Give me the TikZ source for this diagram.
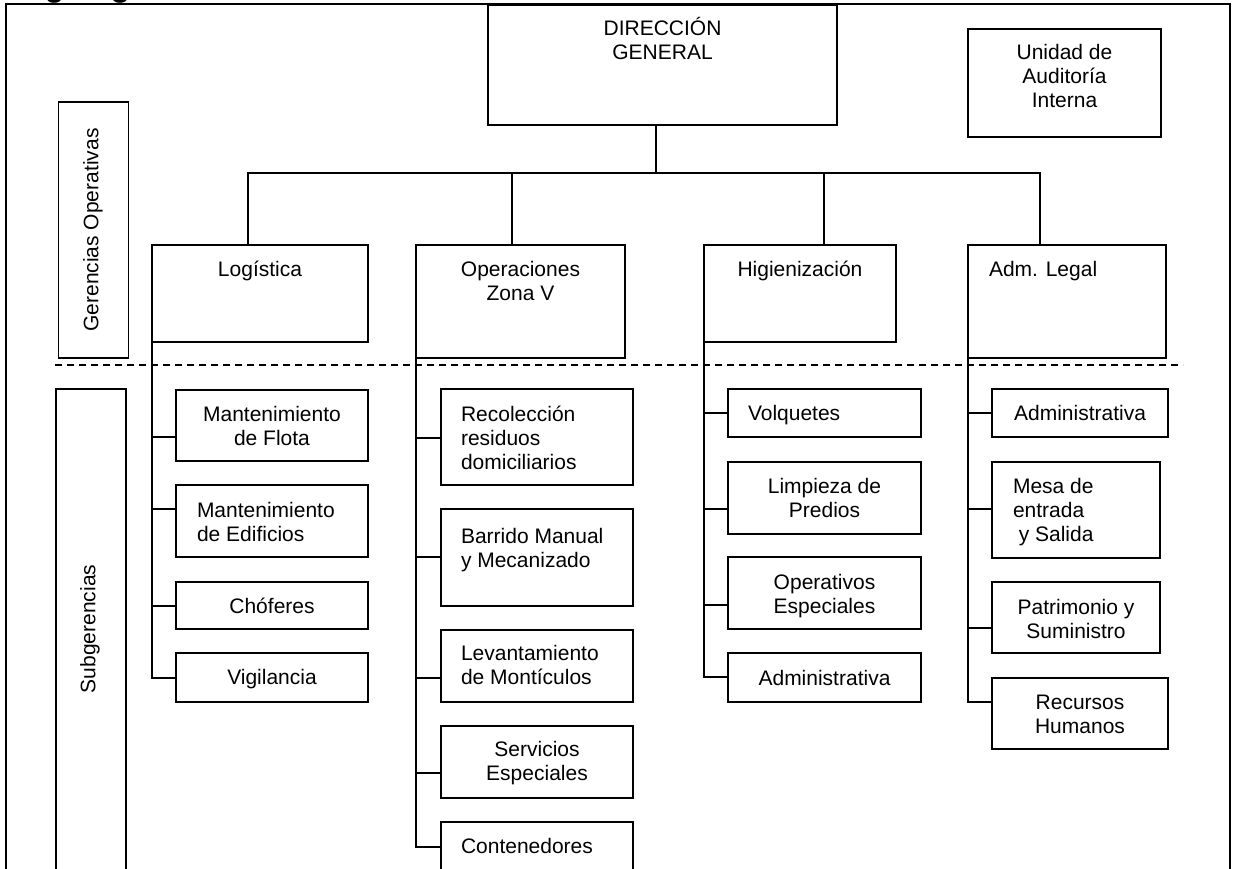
\documentclass[tikz,border=0pt]{standalone}
\usepackage{fontspec}
\setmainfont{Liberation Sans}
\newcommand{\mlines}[2][c]{\begin{tabular}[t]{@{}#1@{}}#2\end{tabular}}
\newcommand{\bx}[5]{\node[box, minimum width={(#4-#2)*1pt}, minimum height={(#5-#3)*1pt}] (#1) at ({(#2+#4)/2},{(#3+#5)/2}) {};}
\tikzset{
  box/.style={draw, rectangle, line width=1.6pt, inner sep=0pt, outer sep=0pt},
  txt/.style={inner sep=0pt, outer sep=0pt},
  conn/.style={line width=1.6pt},
  frameline/.style={line width=2pt},
  sepline/.style={line width=1.5pt, dash pattern=on 7pt off 5pt}
}
\begin{document}
\begin{tikzpicture}[x=1pt, y=-1pt, font=\fontsize{21}{24}\selectfont]
\useasboundingbox (0,0) rectangle (1236,869);
\begin{scope}
\clip (0,0) rectangle (1236,869);
% title, cut off at the top
\node[txt, anchor=base west, font=\fontsize{32}{36}\selectfont\bfseries] (title) at (7.5,-3.5) {Organigrama};
% frame
\draw[frameline] (6,880) -- (6,4) -- (1230,4) -- (1230,880);
% boxes
\bx{dg}{488}{5}{837}{125}
\bx{aud}{968}{29}{1161}{137}
\bx{ger}{58.5}{102}{128.5}{358}
\bx{sub}{56}{389}{126}{880}
\bx{log}{152}{245}{368}{342}
\bx{ops}{416}{245}{625}{358}
\bx{hig}{704}{245}{896}{342}
\bx{adm}{968}{245}{1166}{358}
\bx{l1}{176}{390}{368}{461}
\bx{l2}{176}{485}{368}{557}
\bx{l3}{176}{582}{368}{629}
\bx{l4}{176}{653}{368}{702}
\bx{o1}{441}{389}{633}{485}
\bx{o2}{441}{509}{633}{606}
\bx{o3}{441}{630}{633}{702}
\bx{o4}{441}{726}{633}{798}
\bx{o5}{441}{822}{633}{880}
\bx{h1}{728}{389}{921}{437}
\bx{h2}{728}{462}{921}{534}
\bx{h3}{728}{557}{921}{629}
\bx{h4}{728}{653}{921}{702}
\bx{a1}{992}{389}{1168}{437}
\bx{a2}{992}{462}{1160}{558}
\bx{a3}{992}{582}{1160}{653}
\bx{a4}{992}{678}{1168}{749}
% separator
\draw[sepline] (55,365) -- (1183,365);
% texts
\node[txt, anchor=base] (t-dg) at (662.5,35.5) {\mlines{DIRECCIÓN\\GENERAL}};
\node[txt, anchor=base] (t-aud) at (1064.5,60) {\mlines{Unidad de\\Auditoría\\Interna}};
\node[txt, rotate=90] (t-ger) at (93,230) {Gerencias Operativas};
\node[txt, rotate=90] (t-sub) at (90,629) {Subgerencias};
\node[txt, anchor=base] (t-log) at (260,276) {Logística};
\node[txt, anchor=base] (t-ops) at (520.5,276) {\mlines{Operaciones\\Zona V}};
\node[txt, anchor=base] (t-hig) at (800,276) {Higienización};
\node[txt, anchor=base west] (t-adm) at (989,276) {Adm. Legal};
\node[txt, anchor=base] (t-l1) at (272,421) {\mlines{Mantenimiento\\de Flota}};
\node[txt, anchor=base west] (t-l2) at (197,517) {\mlines[l]{Mantenimiento\\de Edificios}};
\node[txt, anchor=base] (t-l3) at (272,613) {Chóferes};
\node[txt, anchor=base] (t-l4) at (272,684) {Vigilancia};
\node[txt, anchor=base west] (t-o1) at (461,421) {\mlines[l]{Recolección\\residuos\\domiciliarios}};
\node[txt, anchor=base west] (t-o2) at (461,543) {\mlines[l]{Barrido Manual\\y Mecanizado}};
\node[txt, anchor=base west] (t-o3) at (461,660) {\mlines[l]{Levantamiento\\de Montículos}};
\node[txt, anchor=base] (t-o4) at (537,756) {\mlines{Servicios\\Especiales}};
\node[txt, anchor=base west] (t-o5) at (461,853) {Contenedores};
\node[txt, anchor=base west] (t-h1) at (748,420) {Volquetes};
\node[txt, anchor=base] (t-h2) at (824.5,493) {\mlines{Limpieza de\\Predios}};
\node[txt, anchor=base] (t-h3) at (824.5,589) {\mlines{Operativos\\Especiales}};
\node[txt, anchor=base] (t-h4) at (824.5,685) {Administrativa};
\node[txt, anchor=base] (t-a1) at (1080,420) {Administrativa};
\node[txt, anchor=base west] (t-a2) at (1013,493) {\mlines[l]{Mesa de\\entrada\\\hspace*{5.8pt}y Salida}};
\node[txt, anchor=base] (t-a3) at (1076,614) {\mlines{Patrimonio y\\Suministro}};
\node[txt, anchor=base] (t-a4) at (1080,709) {\mlines{Recursos\\Humanos}};
% top connectors
\coordinate (bus) at (656,173);
\draw[conn] (dg.south -| bus) -- (bus);
\draw[conn] (log.north -| 248,0) |- (bus) -| (adm.north -| 1040,0);
\draw[conn] (ops.north -| 512,0) -- (bus -| 512,0);
\draw[conn] (hig.north -| 824,0) -- (bus -| 824,0);
% branches
\draw[conn] (log.south west) |- (l1.west |- 0,437);
\draw[conn] (log.south west) |- (l2.west |- 0,509);
\draw[conn] (log.south west) |- (l3.west |- 0,606);
\draw[conn] (log.south west) |- (l4.west |- 0,678);
\draw[conn] (ops.south west) |- (o1.west |- 0,438);
\draw[conn] (ops.south west) |- (o2.west |- 0,557);
\draw[conn] (ops.south west) |- (o3.west |- 0,678);
\draw[conn] (ops.south west) |- (o4.west |- 0,773);
\draw[conn] (ops.south west) |- (o5.west |- 0,847);
\draw[conn] (hig.south west) |- (h1.west |- 0,413);
\draw[conn] (hig.south west) |- (h2.west |- 0,509);
\draw[conn] (hig.south west) |- (h3.west |- 0,605);
\draw[conn] (hig.south west) |- (h4.west |- 0,677);
\draw[conn] (adm.south west) |- (a1.west |- 0,413);
\draw[conn] (adm.south west) |- (a2.west |- 0,509);
\draw[conn] (adm.south west) |- (a3.west |- 0,628);
\draw[conn] (adm.south west) |- (a4.west |- 0,702);
\end{scope}
\end{tikzpicture}
\end{document}
